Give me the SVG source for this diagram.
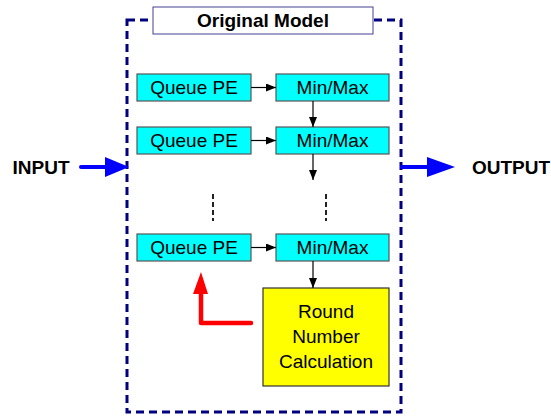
<svg xmlns="http://www.w3.org/2000/svg" width="551" height="416" viewBox="0 0 551 416">
  <defs>
    <style>
      text { font-family: "Liberation Sans", Arial, sans-serif; font-size: 19px; fill: #000; text-anchor: middle; }
      .bold { font-weight: bold; }
      .pe { fill: #00FFFF; stroke: #555; stroke-width: 1.2; }
      .calc { fill: #FFFF00; stroke: #333; stroke-width: 1.2; }
      .frame { fill: none; stroke: #000080; stroke-width: 3; stroke-dasharray: 8 5; }
      .link { stroke: #000; stroke-width: 1.2; fill: none; }
      .dots { stroke: #222; stroke-width: 2; stroke-dasharray: 5 3; fill: none; }
      .io { stroke: #0000FF; stroke-width: 4; stroke-linecap: round; fill: none; }
    </style>
    <marker id="ah" markerWidth="10" markerHeight="8" refX="10" refY="4" orient="auto" markerUnits="userSpaceOnUse">
      <path d="M0,0 L10,4 L0,8 Z" fill="#000"/>
    </marker>
  </defs>

  <!-- model boundary -->
  <rect class="frame" x="127" y="20" width="274" height="392"/>
  <g id="title">
    <rect x="153" y="7" width="220" height="27" fill="#fff" stroke="#404090" stroke-width="1"/>
    <text class="bold" x="263" y="27">Original Model</text>
  </g>

  <!-- processing elements -->
  <g id="queue1"><rect class="pe" x="137" y="74" width="114" height="27"/><text x="194" y="94">Queue PE</text></g>
  <g id="minmax1"><rect class="pe" x="276" y="74" width="113" height="27"/><text x="332.5" y="94">Min/Max</text></g>
  <g id="queue2"><rect class="pe" x="137" y="127" width="114" height="27"/><text x="194" y="147">Queue PE</text></g>
  <g id="minmax2"><rect class="pe" x="276" y="127" width="113" height="27"/><text x="332.5" y="147">Min/Max</text></g>
  <g id="queueN"><rect class="pe" x="137" y="234" width="114" height="27"/><text x="194" y="254">Queue PE</text></g>
  <g id="minmaxN"><rect class="pe" x="276" y="234" width="113" height="27"/><text x="332.5" y="254">Min/Max</text></g>
  <g id="roundcalc">
    <rect class="calc" x="263" y="288" width="126" height="98"/>
    <text x="326" y="318">Round</text>
    <text x="326" y="343">Number</text>
    <text x="326" y="368">Calculation</text>
  </g>
  <g id="input"><text class="bold" x="41" y="174">INPUT</text></g>
  <g id="output"><text class="bold" x="511" y="174">OUTPUT</text></g>

  <!-- connectors -->
  <g id="connectors">
    <line class="link" x1="251" y1="87.5" x2="276" y2="87.5" marker-end="url(#ah)"/>
    <line class="link" x1="251" y1="140.5" x2="276" y2="140.5" marker-end="url(#ah)" stroke="#555"/>
    <line class="link" x1="251" y1="247.5" x2="276" y2="247.5" marker-end="url(#ah)"/>
    <line class="link" x1="313" y1="101" x2="313" y2="127" marker-end="url(#ah)"/>
    <line class="link" x1="313" y1="154" x2="313" y2="180" marker-end="url(#ah)"/>
    <line class="link" x1="313" y1="261" x2="313" y2="288" marker-end="url(#ah)"/>
    <line class="dots" x1="213" y1="194" x2="213" y2="221"/>
    <line class="dots" x1="326" y1="194" x2="326" y2="221"/>
    <!-- feedback from round number calculation -->
    <path d="M251,323 L201,323 L201,292" stroke="#FF0000" stroke-width="4.5" fill="none" stroke-linecap="round" stroke-linejoin="round"/>
    <path d="M193,294 L201,272 L208,294 Z" fill="#FF0000"/>
    <!-- input / output -->
    <line class="io" x1="81" y1="167" x2="106" y2="167"/>
    <path d="M105,157 L129,167 L105,177 Z" fill="#0000FF"/>
    <line class="io" x1="402" y1="167" x2="428" y2="167"/>
    <path d="M427,157 L455,167 L427,177 Z" fill="#0000FF"/>
  </g>
</svg>
